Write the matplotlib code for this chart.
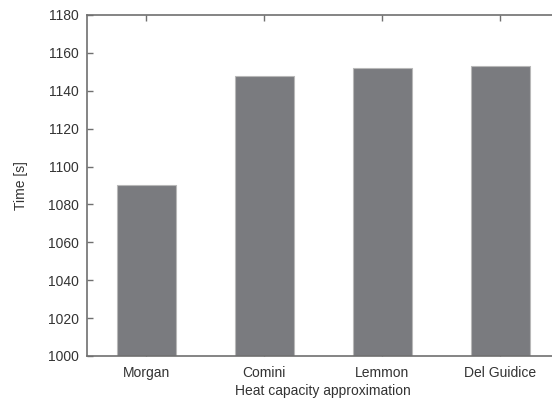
import matplotlib
matplotlib.use("Agg")
import matplotlib.pyplot as plt

categories = ["Morgan", "Comini", "Lemmon", "Del Guidice"]
times = [1090, 1148, 1152, 1153]
yticks = [1000, 1020, 1040, 1060, 1080, 1100, 1120, 1140, 1160, 1180]

plt.rcParams['font.family'] = ['Liberation Sans', 'DejaVu Sans']

fig = plt.figure(figsize=(5.52, 4.03), dpi=100)
ax = fig.add_axes([87/552, 47/403, 472/552, 341/403])

x = list(range(len(categories)))
ax.bar(x, times, width=0.5, color='#7a7b7f', edgecolor='#b8b8b8', linewidth=0.8, zorder=2)

ax.set_xlim(-0.5, 3.5)
ax.set_ylim(1000, 1180)
ax.set_yticks(yticks)
ax.set_xticks(x)
ax.set_xticklabels(categories)

for s in ax.spines.values():
    s.set_color('#707070')
    s.set_linewidth(1.2)

ax.tick_params(direction='in', length=4, width=1, color='#707070',
               labelcolor='#333333', labelsize=10, top=True, right=True)
ax.tick_params(axis='y', pad=6)
ax.tick_params(axis='x', pad=7)

ax.set_xlabel("Heat capacity approximation", fontsize=10, color='#333333', labelpad=3)
ax.set_ylabel("Time [s]", fontsize=10, color='#333333', labelpad=14)

fig.savefig("out.png", dpi=100)
